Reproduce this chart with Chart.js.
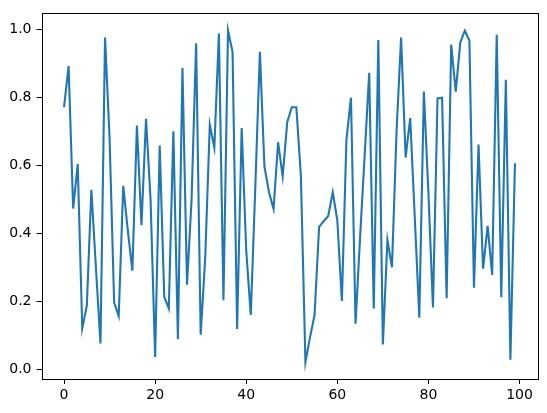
<!DOCTYPE html>
<html>
<head>
<meta charset="utf-8">
<script src="https://cdn.jsdelivr.net/npm/chart.js@4/dist/chart.umd.min.js"></script>
<style>
  html, body { margin: 0; padding: 0; background: #fff; }
  #grafico { display: block; }
</style>
</head>
<body>
<canvas id="grafico" width="547" height="413"></canvas>
<script>
// valores (indice 0..99)
const valores = [
  0.772, 0.893, 0.474, 0.605, 0.121, 0.188, 0.529, 0.30, 0.077, 0.977,
  0.68, 0.197, 0.158, 0.541, 0.41, 0.291, 0.718, 0.425, 0.738, 0.50,
  0.037, 0.659, 0.214, 0.180, 0.701, 0.090, 0.887, 0.250, 0.50, 0.960,
  0.103, 0.33, 0.721, 0.653, 0.989, 0.204, 0.998, 0.934, 0.120, 0.711,
  0.35, 0.161, 0.54, 0.935, 0.597, 0.522, 0.473, 0.669, 0.568, 0.728,
  0.772, 0.772, 0.570, 0.022, 0.095, 0.161, 0.420, 0.437, 0.452, 0.522,
  0.439, 0.202, 0.677, 0.800, 0.135, 0.39, 0.63, 0.873, 0.180, 0.970,
  0.074, 0.381, 0.301, 0.70, 0.977, 0.624, 0.740, 0.45, 0.153, 0.818,
  0.52, 0.183, 0.798, 0.800, 0.210, 0.956, 0.818, 0.963, 0.997, 0.968,
  0.241, 0.662, 0.297, 0.423, 0.279, 0.985, 0.213, 0.853, 0.029, 0.607
];
const ticksX = [0, 20, 40, 60, 80, 100];
const ticksY = [0.0, 0.2, 0.4, 0.6, 0.8, 1.0];

const pontos = valores.map((v, i) => ({ x: i, y: v }));

// moldura preta em volta da area do grafico (como no matplotlib)
const moldura = {
  id: 'moldura',
  afterDraw(chart) {
    const a = chart.chartArea;
    const c = chart.ctx;
    c.save();
    c.strokeStyle = '#000';
    c.lineWidth = 1;
    c.strokeRect(Math.round(a.left) + 0.5, Math.round(a.top) + 0.5,
      Math.round(a.right - a.left), Math.round(a.bottom - a.top));
    c.restore();
  }
};

const fonte = { family: 'DejaVu Sans', size: 14 };

new Chart(document.getElementById('grafico'), {
  type: 'line',
  data: {
    datasets: [{
      data: pontos,
      borderColor: '#1f77b4',
      borderWidth: 2.1,
      pointRadius: 0,
      fill: false,
      tension: 0
    }]
  },
  options: {
    responsive: false,
    animation: false,
    layout: { padding: { top: 9, right: 9.5, left: 0, bottom: 0 } },
    plugins: { legend: { display: false }, tooltip: { enabled: false } },
    scales: {
      x: {
        type: 'linear',
        min: -4.95,
        max: 103.95,
        afterBuildTicks(s) { s.ticks = ticksX.map(v => ({ value: v })); },
        afterFit(s) { s.height = 34; },
        grid: { drawOnChartArea: false, drawTicks: true, tickLength: 5, color: '#000' },
        border: { display: false },
        ticks: { color: '#000', font: fonte, padding: 3, maxRotation: 0,
          callback: v => String(v) }
      },
      y: {
        type: 'linear',
        min: -0.0275,
        max: 1.048,
        afterBuildTicks(s) { s.ticks = ticksY.map(v => ({ value: v })); },
        afterFit(s) { s.width = 41.5; },
        grid: { drawOnChartArea: false, drawTicks: true, tickLength: 5, color: '#000' },
        border: { display: false },
        ticks: { color: '#000', font: fonte, padding: 5,
          callback: v => v.toFixed(1) }
      }
    }
  },
  plugins: [moldura]
});
</script>
</body>
</html>
